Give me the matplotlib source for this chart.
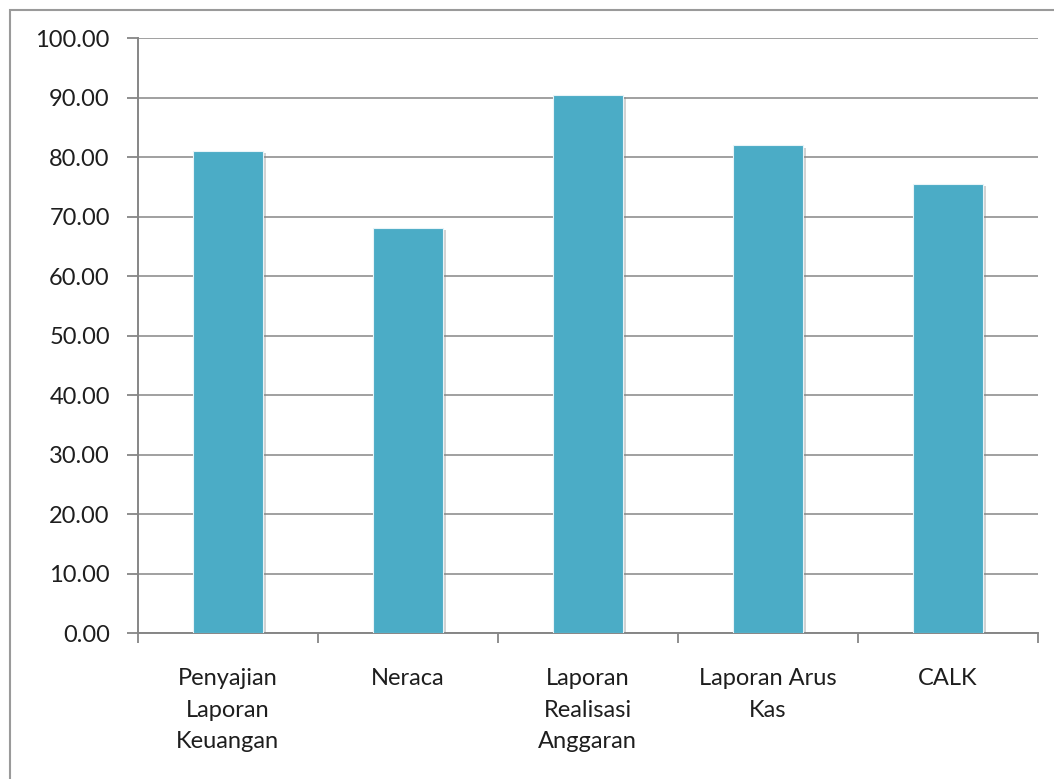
import matplotlib
matplotlib.use("Agg")
import matplotlib.pyplot as plt
import matplotlib.patheffects as pe
from matplotlib.patches import Rectangle
import numpy as np

# data
categories = ["Penyajian\nLaporan\nKeuangan", "Neraca", "Laporan\nRealisasi\nAnggaran",
              "Laporan Arus\nKas", "CALK"]
values = [81.0, 68.2, 90.5, 82.0, 75.6]
y_ticks = [0, 10, 20, 30, 40, 50, 60, 70, 80, 90, 100]

plt.rcParams['font.family'] = ['Lato', 'DejaVu Sans']

fig = plt.figure(figsize=(10.54, 7.79), dpi=100)
ax = fig.add_axes([0.1306, 0.187, 0.854, 0.7638])

# outer chart frame (cut off at right/bottom like the screenshot)
fig.patches.append(Rectangle((10 / 1054, -0.05), 1.2, 1 - 10 / 779 + 0.05,
                             transform=fig.transFigure, fill=False,
                             edgecolor='#9a9a9a', linewidth=1.5))

x = np.arange(len(categories))
bars = ax.bar(x, values, width=0.39, color='#4BACC6', edgecolor='#e8f4f8',
              linewidth=0.8, zorder=3)
for b in bars:
    b.set_path_effects([pe.SimplePatchShadow(offset=(2.5, -1.5), shadow_rgbFace='#808080', alpha=0.35),
                        pe.Normal()])

ax.set_xlim(-0.5, len(categories) - 0.5)
ax.set_ylim(0, 100)
ax.set_yticks(y_ticks)
ax.set_yticklabels([f"{v:.2f}" for v in y_ticks])
ax.yaxis.grid(True, color='#868686', linewidth=1.1, zorder=0)
ax.set_axisbelow(True)

ax.set_xticks(x)
ax.set_xticklabels(categories, linespacing=1.62, va='top')
ax.set_xticks(np.arange(-0.5, len(categories)), minor=True)
ax.tick_params(axis='x', which='major', length=0, pad=25, labelsize=17, labelcolor='#1e1e1e')
ax.tick_params(axis='x', which='minor', length=7, width=1.3, color='#868686', direction='out')
ax.tick_params(axis='y', length=8, width=1.3, color='#868686', pad=12, labelsize=17, labelcolor='#1e1e1e')

for s in ['top', 'right']:
    ax.spines[s].set_visible(False)
for s in ['left', 'bottom']:
    ax.spines[s].set_color('#868686')
    ax.spines[s].set_linewidth(1.4)

fig.savefig("out.png", dpi=100)
